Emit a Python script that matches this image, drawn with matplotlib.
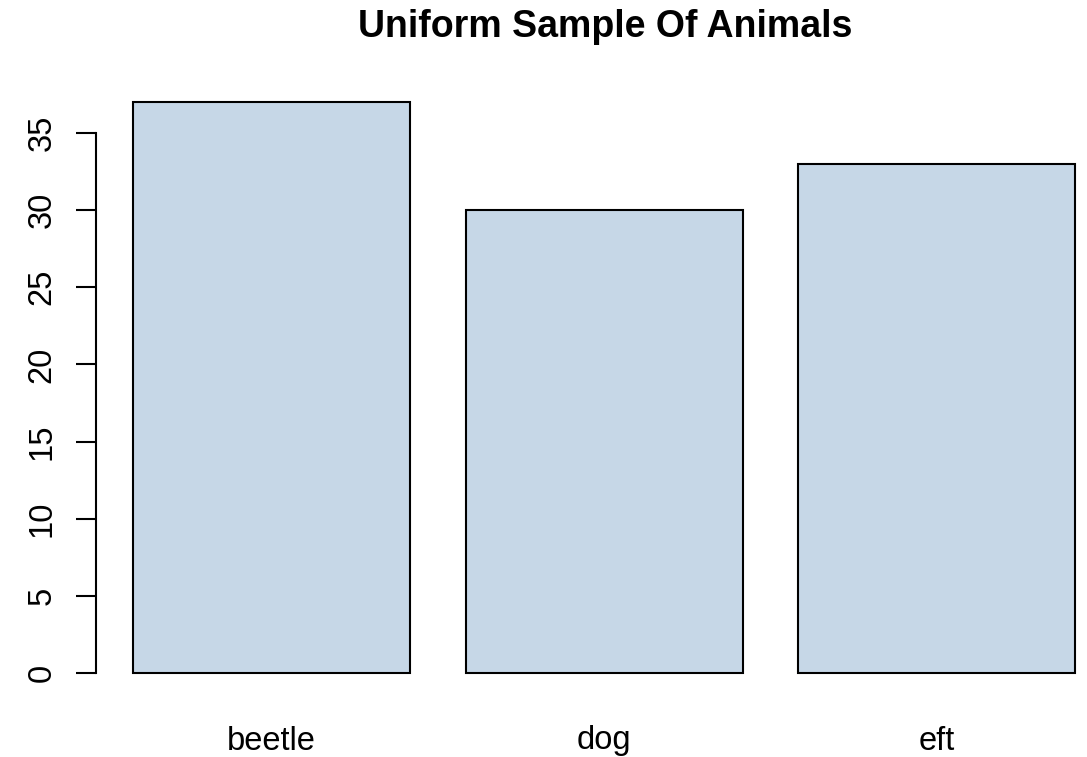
import matplotlib
matplotlib.use("Agg")
import matplotlib.pyplot as plt
import matplotlib.transforms as mtransforms

categories = ["beetle", "dog", "eft"]
counts = [37, 30, 33]
yticks = [0, 5, 10, 15, 20, 25, 30, 35]
title = "Uniform Sample Of Animals"

plt.rcParams['font.family'] = ['Liberation Sans', 'DejaVu Sans']

W, H = 1087, 757
fig = plt.figure(figsize=(W / 100, H / 100), dpi=100)
left_px, right_px = 95.5, 1087
top_px, bot_px = 79.3, 695.8
ax = fig.add_axes([left_px / W, 1 - bot_px / H, (right_px - left_px) / W, (bot_px - top_px) / H])

width = 1.0
space = 0.2
xs = [space + i * (width + space) + width / 2 for i in range(len(categories))]
ax.bar(xs, counts, width=width, color="#c6d7e7", edgecolor="black", linewidth=1.5)

ax.set_xlim(0.064, 0.064 + (right_px - left_px) / 277.06)
ax.set_ylim(-1.48, 38.48)

for s in ["top", "right", "bottom"]:
    ax.spines[s].set_visible(False)
ax.spines["left"].set_bounds(0, 35)
ax.spines["left"].set_linewidth(1.5)

ax.set_yticks(yticks)
ax.set_yticklabels([str(v) for v in yticks], rotation=90, va="center", fontsize=23.5)
ax.tick_params(axis="y", length=14.4, width=1.5, pad=13)
ax.set_xticks([])

trans = mtransforms.blended_transform_factory(ax.transData, fig.transFigure)
for x, c in zip(xs, categories):
    ax.text(x, 1 - 749.5 / H, c, transform=trans, ha="center", va="baseline", fontsize=23.5)

fig.text(605 / W, 1 - 37 / H, title, ha="center", va="baseline", fontsize=27, fontweight="bold")

fig.savefig("out.png", dpi=100)
